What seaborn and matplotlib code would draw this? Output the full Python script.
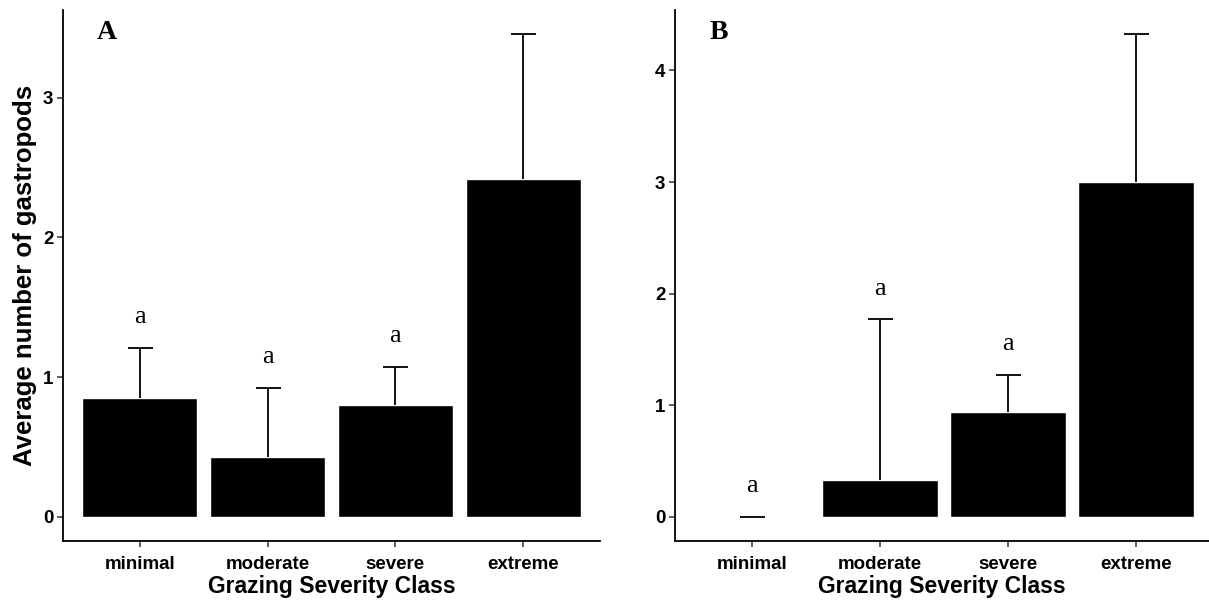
import numpy as np
import pandas as pd
import matplotlib
matplotlib.use('Agg')
import matplotlib.pyplot as plt
import seaborn as sns

# Dados
classes = ['minimal', 'moderate', 'severe', 'extreme']
media_a = [0.85, 0.43, 0.80, 2.42]
erro_a = [0.36, 0.495, 0.275, 1.035]
letras_a = ['a', 'a', 'a', '']
media_b = [0.0, 0.33, 0.94, 3.0]
erro_b = [0.0, 1.44, 0.335, 1.325]
letras_b = ['a', 'a', 'a', '']

sns.set_theme(style='ticks')
plt.rcParams['font.family'] = ['Liberation Sans', 'DejaVu Sans']
plt.rcParams['text.color'] = 'black'
plt.rcParams['axes.labelcolor'] = 'black'

fig = plt.figure(figsize=(12.09, 6.02), dpi=100)
ax_a = fig.add_axes([63 / 1209, 61 / 602, 537 / 1209, 531 / 602])
ax_b = fig.add_axes([675 / 1209, 61 / 602, 534 / 1209, 531 / 602])


def painel(ax, media, erro, letras, rotulo, xlim_dir):
    df = pd.DataFrame({'classe': classes, 'media': media})
    sns.barplot(data=df, x='classe', y='media', color='black', width=0.9,
                errorbar=None, saturation=1, ax=ax)
    eb = ax.errorbar(range(len(classes)), media, yerr=[np.zeros(len(media)), erro],
                     fmt='none', ecolor='black', elinewidth=1.3, capsize=9, capthick=1.3)
    # só a barra superior, sem o traço em baixo (exceto quando o erro é zero)
    cap_baixo = eb[1][0]
    cap_baixo.set_visible(False)
    topo = np.array(media) + np.array(erro)
    for i, l in enumerate(letras):
        if l:
            ax.annotate(l, xy=(i, topo[i]), xytext=(0, 22), textcoords='offset points',
                        ha='center', va='center', fontsize=19,
                        family=['Liberation Serif', 'DejaVu Serif'])
    ax.text(0.082, 0.957, rotulo, transform=ax.transAxes, ha='center', va='center',
            fontsize=20, fontweight='bold', family=['Liberation Serif', 'DejaVu Serif'])
    ymax = topo.max()
    ax.set_ylim(-0.05 * ymax, 1.05 * ymax)
    ax.set_xlim(-0.6, xlim_dir)
    sns.despine(ax=ax)
    for s in ['left', 'bottom']:
        ax.spines[s].set_linewidth(1.3)
        ax.spines[s].set_color('black')
    ax.tick_params(axis='both', length=4, width=1.1, color='#333333',
                   labelsize=13.5, pad=3)
    ax.tick_params(axis='x', pad=7)
    for t in ax.get_xticklabels() + ax.get_yticklabels():
        t.set_fontweight('bold')
        t.set_color('black')
    ax.set_xlabel('Grazing Severity Class', fontsize=16.5, fontweight='bold', labelpad=1)
    ax.set_ylabel('')


painel(ax_a, media_a, erro_a, letras_a, 'A', 3.6)
painel(ax_b, media_b, erro_b, letras_b, 'B', 3.57)
ax_a.set_yticks([0, 1, 2, 3])
ax_b.set_yticks([0, 1, 2, 3, 4])
ax_a.set_ylabel('Average number of gastropods', fontsize=18.5, fontweight='bold', labelpad=4)
for t in ax_a.get_yticklabels() + ax_b.get_yticklabels():
    t.set_fontweight('bold')

fig.savefig('out.png', dpi=100)
